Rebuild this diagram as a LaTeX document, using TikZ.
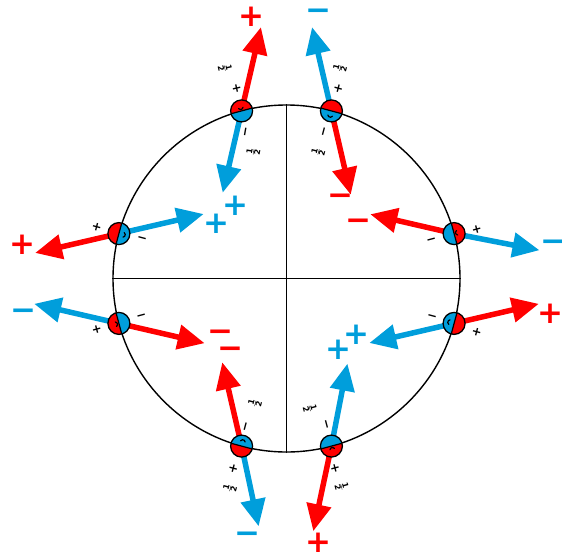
\documentclass[tikz,border=0pt]{standalone}
\usepackage{fontspec}
\usetikzlibrary{arrows.meta,calc}
\newfontfamily\signfont{DejaVu Sans}
\definecolor{redc}{RGB}{255,0,0}
\definecolor{bluec}{RGB}{0,158,219}
\tikzset{
  arr/.style={line width=5.5pt,-{Triangle[length=27pt,width=24pt]}},
  redarr/.style={arr,draw=redc,fill=redc},
  bluearr/.style={arr,draw=bluec,fill=bluec},
  bigsign/.style={inner sep=0pt,font=\signfont\bfseries\fontsize{31}{31}\selectfont},
  smalllab/.style={inner sep=0pt,font=\signfont\bfseries\fontsize{12}{14}\selectfont},
  halffrac/.style={inner sep=0pt,font=\signfont\bfseries\fontsize{8}{9}\selectfont},
  sphere/.style={circle,draw,line width=1.3pt,minimum size=22pt,inner sep=0pt,
    path picture={
      \fill[redc] ($(path picture bounding box.center)+(#1-90:12pt)$) arc[start angle=#1-90,end angle=#1+90,radius=12pt] -- cycle;
      \fill[bluec] ($(path picture bounding box.center)+(#1+90:12pt)$) arc[start angle=#1+90,end angle=#1+270,radius=12pt] -- cycle;
      \draw[line width=1.2pt] ($(path picture bounding box.center)+(#1-90:12pt)$) -- ($(path picture bounding box.center)+(#1+90:12pt)$);
    }},
  spinmark/.style={line width=1.2pt,line cap=round}
}
\newcommand\spinmk[3]{\draw[spinmark] ($(#1)+(#3:4pt)+(#2+110:2.5pt)$) arc[start angle=#2+110,end angle=#2+250,radius=2.5pt];}
\begin{document}
\begin{tikzpicture}[x=1pt,y=-1pt]
\useasboundingbox (0,0) rectangle (562,557);
\coordinate (O) at (286.5,278.5);
\node[circle,draw,line width=1.4pt,minimum size=347pt,inner sep=0pt] (C) at (O) {};
\draw[line width=1.2pt] (C.west) -- (C.east);
\draw[line width=1.2pt] (C.north) -- (C.south);
% sphere positions
\coordinate (pTL) at ($(O)+(105:173.5pt)$);
\coordinate (pTR) at ($(O)+(75:173.5pt)$);
\coordinate (pLU) at ($(O)+(165:173.5pt)$);
\coordinate (pLL) at ($(O)+(195:173.5pt)$);
\coordinate (pRU) at ($(O)+(15:173.5pt)$);
\coordinate (pRL) at ($(O)+(-15:173.5pt)$);
\coordinate (pBL) at ($(O)+(255:173.5pt)$);
\coordinate (pBR) at ($(O)+(285:173.5pt)$);
% arrows
\draw[redarr]  (pTL) -- ++(77:86pt)   coordinate (tTLr);
\draw[bluearr] (pTL) -- ++(257:84pt)  coordinate (tTLb);
\draw[bluearr] (pTR) -- ++(103:86pt)  coordinate (tTRb);
\draw[redarr]  (pTR) -- ++(-77:86pt)  coordinate (tTRr);
\draw[redarr]  (pLU) -- ++(193:86pt)  coordinate (tLUr);
\draw[bluearr] (pLU) -- ++(13:87pt)   coordinate (tLUb);
\draw[bluearr] (pLL) -- ++(167:87pt)  coordinate (tLLb);
\draw[redarr]  (pLL) -- ++(-13:88pt)  coordinate (tLLr);
\draw[redarr]  (pRU) -- ++(167:86pt)  coordinate (tRUr);
\draw[bluearr] (pRU) -- ++(-11:87pt)  coordinate (tRUb);
\draw[redarr]  (pRL) -- ++(13:87pt)   coordinate (tRLr);
\draw[bluearr] (pRL) -- ++(193:87pt)  coordinate (tRLb);
\draw[redarr]  (pBL) -- ++(103:86pt)  coordinate (tBLr);
\draw[bluearr] (pBL) -- ++(-78:82pt)  coordinate (tBLb);
\draw[bluearr] (pBR) -- ++(79:84pt)   coordinate (tBRb);
\draw[redarr]  (pBR) -- ++(-102:87pt) coordinate (tBRr);
% spheres
\node[sphere=105] (TL) at (pTL) {};
\node[sphere=75]  (TR) at (pTR) {};
\node[sphere=165] (LU) at (pLU) {};
\node[sphere=195] (LL) at (pLL) {};
\node[sphere=15]  (RU) at (pRU) {};
\node[sphere=-15] (RL) at (pRL) {};
\node[sphere=255] (BL) at (pBL) {};
\node[sphere=285] (BR) at (pBR) {};
\spinmk{TL}{105}{105}
\spinmk{TR}{75}{255}
\spinmk{LU}{165}{345}
\spinmk{LL}{195}{195}
\spinmk{RU}{15}{15}
\spinmk{RL}{-15}{165}
\spinmk{BL}{255}{75}
\spinmk{BR}{285}{285}
% big coloured signs
\node[bigsign,text=redc]  (sTLr) at (251,17) {+};
\node[bigsign,text=bluec] (sTLb) at (235,206) {+};
\node[bigsign,text=bluec] (sTRb) at (318,15) {−};
\node[bigsign,text=redc]  (sTRr) at (340,200) {−};
\node[bigsign,text=redc]  (sLUr) at (22.7,245) {+};
\node[bigsign,text=bluec] (sLUb) at (216.7,223.3) {+};
\node[bigsign,text=bluec] (sLLb) at (23.3,315) {−};
\node[bigsign,text=redc]  (sLLr) at (220,335.7) {−};
\node[bigsign,text=redc]  (sRUr) at (358.3,224.3) {−};
\node[bigsign,text=bluec] (sRUb) at (553.3,246) {−};
\node[bigsign,text=redc]  (sRLr) at (550,313.3) {+};
\node[bigsign,text=bluec] (sRLb) at (356.7,335) {+};
\node[bigsign,text=redc]  (sBLr) at (230,352.3) {−};
\node[bigsign,text=bluec] (sBLb) at (247.3,537.3) {−};
\node[bigsign,text=bluec] (sBRb) at (338.3,350) {+};
\node[bigsign,text=redc]  (sBRr) at (318.3,542.7) {+};
% small black labels
\node[smalllab,rotate=-77] (aTL1) at (236.7,88.3) {+};
\node[halffrac,rotate=-77] (aTL2) at (225,68) {$\frac{\mbox{1}}{\mbox{2}}$};
\node[smalllab,rotate=80]  (aTL3) at (246.7,131.7) {−};
\node[halffrac,rotate=80]  (aTL4) at (253.3,151.7) {$\frac{\mbox{1}}{\mbox{2}}$};
\node[smalllab,rotate=75]  (aTR1) at (338.3,88.3) {+};
\node[halffrac,rotate=75]  (aTR2) at (340,68) {$\frac{\mbox{1}}{\mbox{2}}$};
\node[smalllab,rotate=75]  (aTR3) at (325,131.7) {−};
\node[halffrac,rotate=75]  (aTR4) at (318.3,151.7) {$\frac{\mbox{1}}{\mbox{2}}$};
\node[halffrac,rotate=75]  (aBL1) at (255,403.3) {$\frac{\mbox{1}}{\mbox{2}}$};
\node[smalllab,rotate=75]  (aBL2) at (246.7,426.7) {−};
\node[smalllab,rotate=75]  (aBL3) at (233.3,468.3) {+};
\node[halffrac,rotate=75]  (aBL4) at (230,488.3) {$\frac{\mbox{1}}{\mbox{2}}$};
\node[halffrac,rotate=-75] (aBR1) at (310,408.3) {$\frac{\mbox{1}}{\mbox{2}}$};
\node[smalllab,rotate=-75] (aBR2) at (325,425) {−};
\node[smalllab,rotate=-75] (aBR3) at (335,468.3) {+};
\node[halffrac,rotate=-75] (aBR4) at (341.7,486.7) {$\frac{\mbox{1}}{\mbox{2}}$};
\node[smalllab,rotate=-15] (aLU1) at (96.7,227.3) {+};
\node[smalllab,rotate=-15] (aLU2) at (141.7,240) {−};
\node[smalllab,rotate=15]  (aLL1) at (96.7,330) {+};
\node[smalllab,rotate=15]  (aLL2) at (141.7,317.3) {−};
\node[smalllab,rotate=15]  (aRU1) at (476.7,229.3) {+};
\node[smalllab,rotate=15]  (aRU2) at (431.7,240.7) {−};
\node[smalllab,rotate=-15] (aRL1) at (476.7,331.7) {+};
\node[smalllab,rotate=-15] (aRL2) at (431.7,317.7) {−};
\end{tikzpicture}
\end{document}
